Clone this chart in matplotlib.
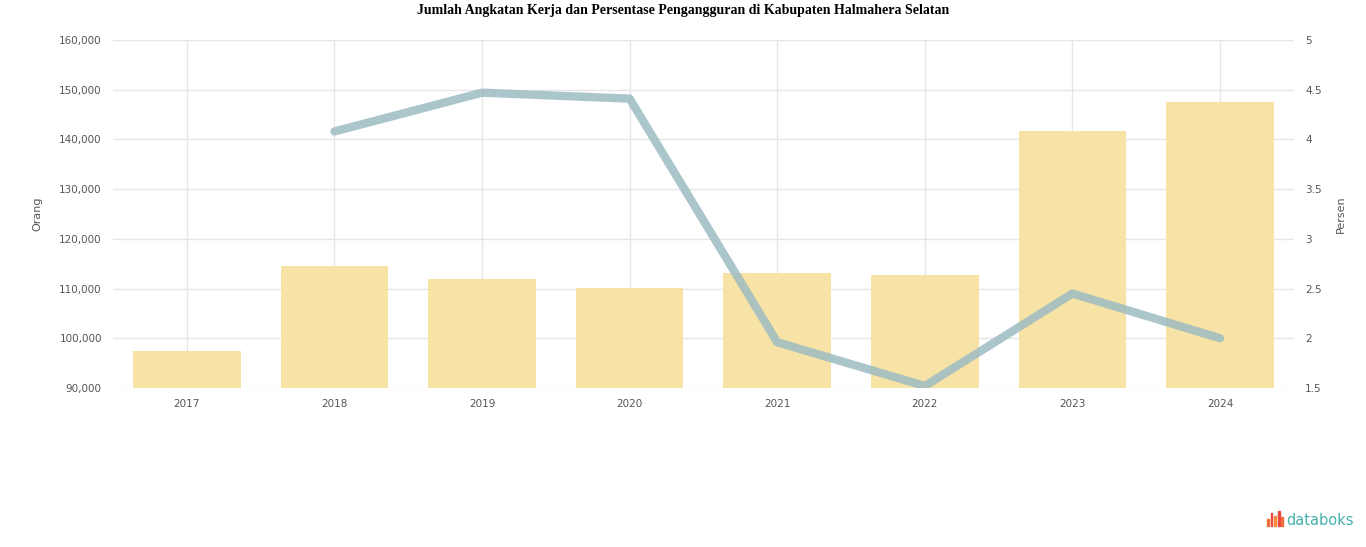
import matplotlib
matplotlib.use("Agg")
import matplotlib.pyplot as plt
from matplotlib.ticker import FuncFormatter

years = ["2017", "2018", "2019", "2020", "2021", "2022", "2023", "2024"]
angkatan_kerja = [97400, 114500, 111900, 110100, 113100, 112700, 141700, 147500]
pengangguran_years = ["2018", "2019", "2020", "2021", "2022", "2023", "2024"]
pengangguran = [4.08, 4.47, 4.41, 1.96, 1.52, 2.45, 2.0]
left_ticks = [90000, 100000, 110000, 120000, 130000, 140000, 150000, 160000]
right_ticks = [1.5, 2, 2.5, 3, 3.5, 4, 4.5, 5]

fig = plt.figure(figsize=(13.66, 5.47), dpi=100)
ax = fig.add_axes([0.0827, 0.2907, 0.8645, 0.6362])
ax2 = ax.twinx()

x = list(range(len(years)))
ax.bar(x, angkatan_kerja, width=0.73, color="#f8e3a6", zorder=2)
ax.set_ylim(left_ticks[0], left_ticks[-1])
ax.set_yticks(left_ticks)
ax.yaxis.set_major_formatter(FuncFormatter(lambda v, p: f"{int(v):,}"))
ax.set_xlim(-0.5, len(years) - 0.5)
ax.set_xticks(x)
ax.set_xticklabels(years)

xp = [years.index(y) for y in pengangguran_years]
ax2.plot(xp, pengangguran, color="#9dbcc2", lw=6, alpha=0.85, solid_capstyle="round", zorder=3)
ax2.set_ylim(right_ticks[0], right_ticks[-1])
ax2.set_yticks(right_ticks)
ax2.yaxis.set_major_formatter(FuncFormatter(lambda v, p: f"{v:g}"))

ax.grid(True, color="#e6e6e6", lw=1, zorder=0)
ax.set_axisbelow(True)
for a in (ax, ax2):
    for s in a.spines.values():
        s.set_visible(False)
    a.tick_params(length=0, labelsize=7.5, colors="#555555", pad=8)

ax.set_ylabel("Orang", fontsize=8, color="#555555", labelpad=12)
ax2.set_ylabel("Persen", fontsize=8, color="#555555", labelpad=10)

fig.text(0.5, 0.992, "Jumlah Angkatan Kerja dan Persentase Pengangguran di Kabupaten Halmahera Selatan",
         ha="center", va="top", fontsize=10, fontweight="bold", family="Liberation Serif")

# databoks logo
lx, ly = 0.9275, 0.038
heights = [0.014, 0.024, 0.018, 0.028, 0.016]
cols = ["#f26b3a", "#e9483f", "#f58a3c", "#e9483f", "#f26b3a"]
for i, (h, c) in enumerate(zip(heights, cols)):
    fig.patches.append(plt.Rectangle((lx + i * 0.0026, ly), 0.0014, h, transform=fig.transFigure,
                                     color=c, figure=fig))
fig.text(0.9415, 0.034, "databoks", fontsize=10.5, color="#45b0ad", va="bottom", ha="left",
         family="DejaVu Sans")

fig.savefig("out.png", dpi=100)
